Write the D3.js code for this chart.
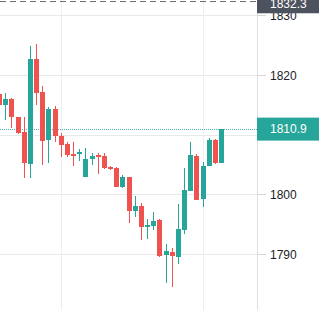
<!DOCTYPE html>
<html>
<head>
<meta charset="utf-8">
<script src="https://cdn.jsdelivr.net/npm/d3@7"></script>
<style>
  html, body { margin: 0; padding: 0; background: #fff; }
  svg { display: block; }
  text { font-family: "Liberation Sans", Arial, sans-serif; font-size: 12px; }
</style>
</head>
<body>
<div id="container"></div>
<script>
// candles, left to right
const opens  = [1816.8, 1814.9, 1815.9, 1812.9, 1810.4, 1805.1, 1822.6, 1817.1, 1809.1, 1814.3,
                1809.8, 1808.4, 1806.7, 1806.7, 1802.9, 1805.9, 1806.6, 1806.4, 1804.6, 1804.4,
                1801.2, 1802.9, 1797.2, 1798.0, 1794.5, 1794.7, 1795.7, 1789.8, 1790.3, 1789.5,
                1794.0, 1800.5, 1806.4, 1799.2, 1804.7, 1809.1, 1805.2];
const highs  = [1817.0, 1817.0, 1816.1, 1812.9, 1812.9, 1824.8, 1825.2, 1818.1, 1814.6, 1814.8,
                1810.3, 1808.7, 1808.7, 1807.6, 1807.7, 1806.9, 1806.9, 1806.9, 1804.7, 1804.6,
                1803.2, 1802.9, 1799.7, 1798.5, 1795.9, 1797.0, 1795.9, 1791.7, 1791.0, 1798.4,
                1804.4, 1808.7, 1806.7, 1805.4, 1809.4, 1809.3, 1810.9];
const lows   = [1814.7, 1812.4, 1811.1, 1810.1, 1802.7, 1802.7, 1814.9, 1804.9, 1805.2, 1808.7,
                1806.2, 1806.2, 1804.7, 1805.6, 1802.9, 1804.9, 1803.4, 1804.2, 1804.1, 1801.2,
                1801.0, 1795.2, 1796.2, 1792.3, 1792.5, 1794.0, 1789.5, 1785.2, 1784.5, 1788.3,
                1793.4, 1800.5, 1799.0, 1797.9, 1804.7, 1805.0, 1805.2];
const closes = [1814.9, 1815.9, 1812.9, 1810.3, 1805.2, 1822.6, 1817.0, 1808.9, 1814.3, 1809.8,
                1808.2, 1806.6, 1806.4, 1807.1, 1805.9, 1806.4, 1806.2, 1804.4, 1804.2, 1801.2,
                1802.9, 1797.2, 1798.0, 1794.5, 1794.9, 1795.5, 1789.7, 1790.5, 1789.7, 1794.2,
                1800.7, 1806.6, 1799.0, 1804.7, 1809.1, 1805.2, 1810.9];

const priceTicks = [1790, 1800, 1810, 1820, 1830];
const timeGridIdx = [10, 33];
const lastPrice = 1810.9;
const highMark = 1832.3;

const width = 319, height = 310;
const axisX = 257;
const up = "#26a69a", down = "#ef5350";

const candles = opens.map((o, i) => ({i, o, h: highs[i], l: lows[i], c: closes[i]}));

const x = d3.scaleLinear().domain([0, candles.length - 1]).range([-0.5, 221.6]);
const y = d3.scaleLinear().domain([1790, 1830]).range([254, 15]);

const svg = d3.select("#container").append("svg")
    .attr("width", width)
    .attr("height", height);

// grid
const grid = svg.append("g").attr("shape-rendering", "crispEdges");
grid.selectAll(".hgrid")
    .data(priceTicks)
    .enter().append("line")
    .attr("x1", 0).attr("x2", axisX)
    .attr("y1", d => Math.round(y(d)) + 0.5)
    .attr("y2", d => Math.round(y(d)) + 0.5)
    .attr("stroke", "#e9e9e9");
grid.selectAll(".vgrid")
    .data(timeGridIdx)
    .enter().append("line")
    .attr("x1", d => Math.round(x(d)) + 0.5)
    .attr("x2", d => Math.round(x(d)) + 0.5)
    .attr("y1", 0).attr("y2", height)
    .attr("stroke", "#eeeeee");

// dashed high line
svg.append("line")
    .attr("x1", 0).attr("x2", axisX)
    .attr("y1", Math.round(y(highMark)) + 0.5)
    .attr("y2", Math.round(y(highMark)) + 0.5)
    .attr("stroke", "#6e6e6e")
    .attr("stroke-dasharray", "6,4");

// last price dotted line
svg.append("line")
    .attr("x1", 0).attr("x2", axisX)
    .attr("y1", Math.round(y(lastPrice)) + 0.5)
    .attr("y2", Math.round(y(lastPrice)) + 0.5)
    .attr("stroke", up)
    .attr("stroke-opacity", 0.85)
    .attr("stroke-dasharray", "1,1");

// candles
const cg = svg.append("g").attr("shape-rendering", "crispEdges");
const candle = cg.selectAll(".candle")
    .data(candles)
    .enter().append("g")
    .attr("fill", d => d.c >= d.o ? up : down);

candle.append("rect")
    .attr("x", d => Math.round(x(d.i) - 2.5) + 2)
    .attr("width", 1)
    .attr("y", d => Math.round(y(d.h)))
    .attr("height", d => Math.max(1, Math.round(y(d.l)) - Math.round(y(d.h))));

candle.append("rect")
    .attr("x", d => Math.round(x(d.i) - 2.5))
    .attr("width", 5)
    .attr("y", d => Math.round(y(Math.max(d.o, d.c))))
    .attr("height", d => Math.max(1, Math.round(y(Math.min(d.o, d.c))) - Math.round(y(Math.max(d.o, d.c)))));

// right price axis
const axis = svg.append("g");
axis.append("line")
    .attr("x1", axisX + 0.5).attr("x2", axisX + 0.5)
    .attr("y1", 0).attr("y2", height)
    .attr("stroke", "#e0e0e0");

const tick = axis.selectAll(".tick")
    .data(priceTicks)
    .enter().append("g")
    .attr("transform", d => `translate(0,${Math.round(y(d)) + 0.5})`);
tick.append("line")
    .attr("x1", axisX).attr("x2", axisX + 9)
    .attr("stroke", "#d6d6d6");
// labels hidden behind the last price label are skipped
tick.filter(d => Math.abs(y(d) - y(lastPrice)) > 12)
    .append("text")
    .attr("x", 270)
    .attr("dy", "0.36em")
    .attr("fill", "#1c1c24")
    .text(d => d);

// last price label
axis.append("rect")
    .attr("x", axisX).attr("width", width - axisX)
    .attr("y", y(lastPrice) - 11.5).attr("height", 23)
    .attr("fill", up);
axis.append("text")
    .attr("x", 270)
    .attr("y", y(lastPrice))
    .attr("dy", "0.36em")
    .attr("fill", "#fff")
    .text(lastPrice.toFixed(1));

// high mark label
axis.append("rect")
    .attr("x", axisX).attr("width", width - axisX)
    .attr("y", y(highMark) - 11).attr("height", 23)
    .attr("fill", "#4c525e");
axis.append("text")
    .attr("x", 270)
    .attr("y", 7.5)
    .attr("fill", "#fff")
    .text(highMark.toFixed(1));
</script>
</body>
</html>
